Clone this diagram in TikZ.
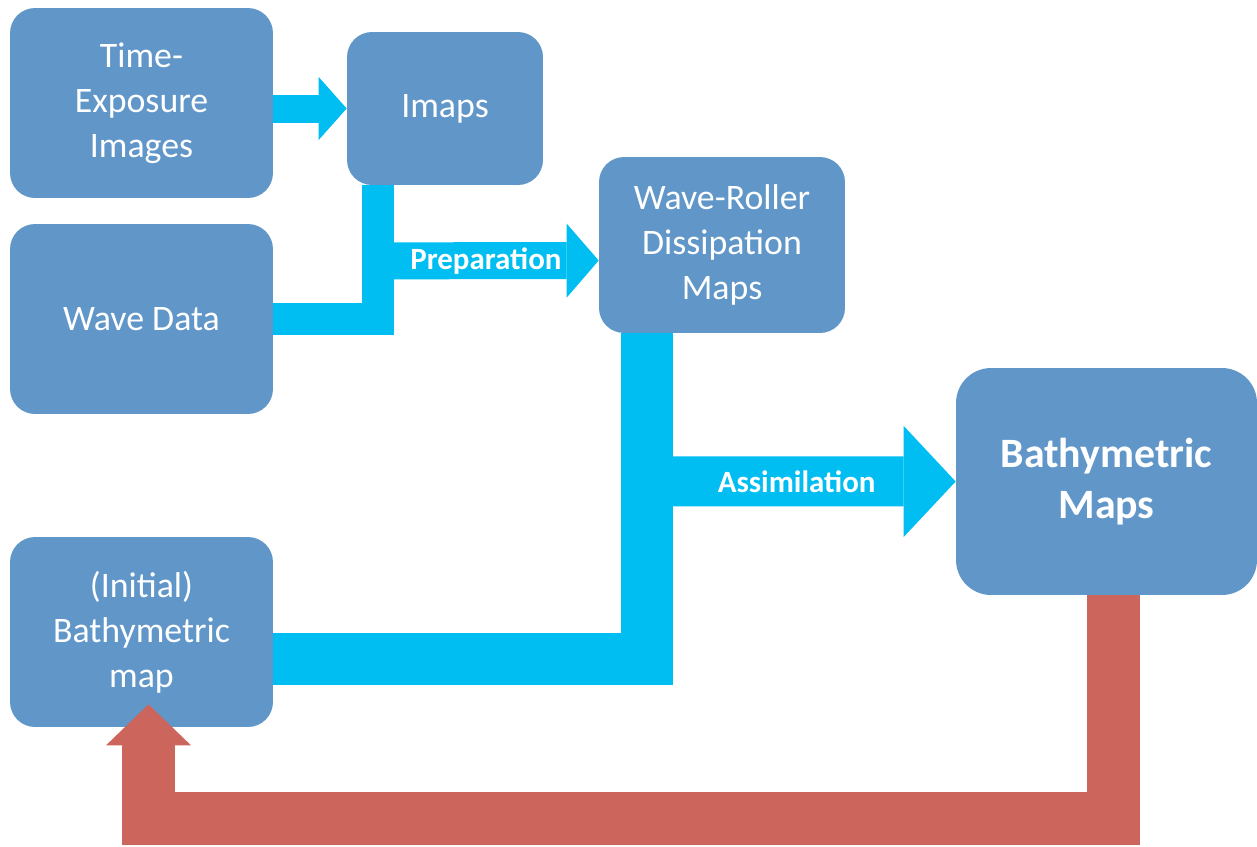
\documentclass[tikz,border=0pt]{standalone}
\usepackage{fontspec}
\setmainfont{Carlito}
\usetikzlibrary{arrows.meta,calc}
\definecolor{boxblue}{RGB}{96,150,200}
\definecolor{flowcyan}{RGB}{0,190,242}
\definecolor{loopred}{RGB}{204,102,92}
\begin{document}
\begin{tikzpicture}[x=0.02cm,y=-0.02cm,
  every node/.style={text=white,align=center,inner sep=0pt},
  box/.style={fill=boxblue,rounded corners=0.5cm,font=\fontsize{20.4}{25.5}\selectfont},
  flow/.style={draw=flowcyan,line join=miter},
  lbl/.style={font=\bfseries\fontsize{17.6}{20}\selectfont}]
  \useasboundingbox (0,0) rectangle (1257,846);

  \node[box,minimum width=5.26cm,minimum height=3.8cm] (tei) at (141.5,103) {Time-\\Exposure\\Images};
  \node[box,minimum width=3.92cm,minimum height=3.06cm] (imaps) at (445,108.5) {Imaps};
  \node[box,minimum width=5.26cm,minimum height=3.8cm] (wave) at (141.5,319) {Wave Data};
  \node[box,minimum width=4.92cm,minimum height=3.52cm] (roller) at (722,245) {Wave-Roller\\Dissipation\\Maps};
  \node[box,minimum width=6.02cm,minimum height=4.54cm,rounded corners=0.7cm,
        font=\bfseries\fontsize{23.8}{29}\selectfont] (bathy) at (1106.5,481.5) {Bathymetric\\Maps};
  \node[box,minimum width=5.26cm,minimum height=3.8cm] (init) at (141.5,632) {(Initial)\\Bathymetric\\map};

  % images to imaps
  \draw[flow,line width=0.56cm,-{Triangle[length=0.56cm,width=1.26cm,line width=0pt]}]
    (tei.east |- imaps.west) -- (imaps.west);

  % preparation
  \draw[flow,line width=0.64cm] (wave.east) -| ($(imaps.south west)+(31,0)$);
  \draw[flow,line width=0.74cm,-{Triangle[length=0.64cm,width=1.48cm,line width=0pt]}]
    ($(imaps.south west)+(47,75.5)$) -- node[lbl,pos=0.45] {Preparation} ($(roller.west)+(0,15.5)$);

  % assimilation
  \draw[flow,line width=1.04cm] ($(init.east)+(0,27)$) -| ($(roller.south west)+(48,0)$);
  \draw[flow,line width=1cm,-{Triangle[length=1.04cm,width=2.22cm,line width=0pt]}]
    ($(roller.south west)+(73,148)$) -- node[lbl,pos=0.44] {Assimilation} (bathy.west);

  % loop back
  \draw[draw=loopred,line join=miter,line width=1.06cm,-{Triangle[length=0.82cm,width=1.7cm,line width=0pt]}]
    ($(bathy.south)+(6.5,0)$) -- ++(0,223.5) -| ($(init.south)+(7,-23)$);

\end{tikzpicture}
\end{document}
